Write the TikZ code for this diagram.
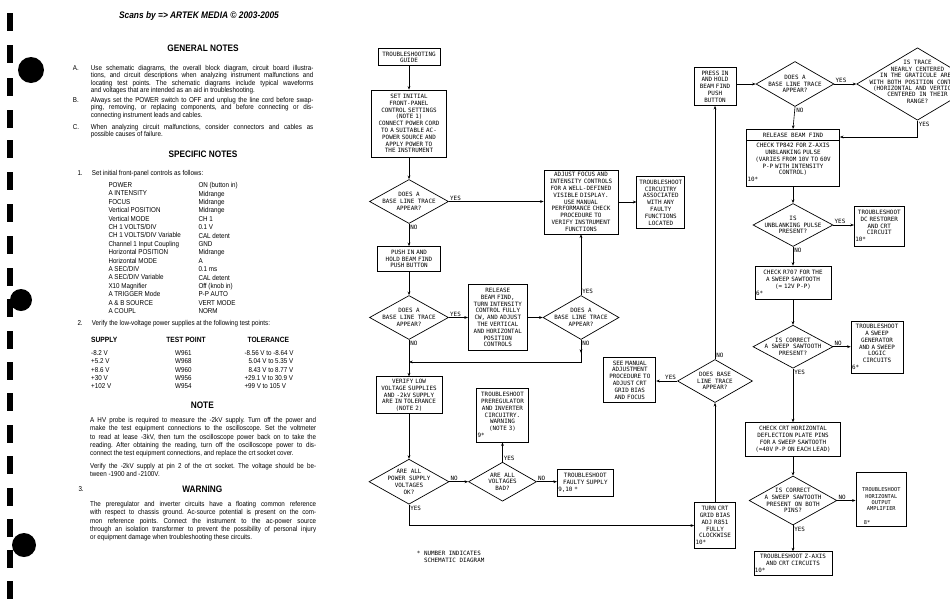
\documentclass[tikz,border=0pt]{standalone}
\usepackage{fontspec}
\setmainfont{Liberation Sans}[FakeStretch=0.88]
\newfontfamily\flowfont{DejaVu Sans Mono}
\usetikzlibrary{shapes.geometric,arrows.meta}
\newcommand\flowtxt{\flowfont\fontsize{5.9}{6.8}\selectfont}
\newcommand\smalltxt{\flowfont\fontsize{5.3}{6.2}\selectfont}
\newcommand\bodytxt{\fontsize{7.1}{8.33}\selectfont}
\tolerance=10000
\hbadness=10000
\frenchspacing

\begin{document}
\begin{tikzpicture}[x=1pt,y=-1pt,>={Stealth[length=3.6pt,width=2.8pt]},
  box/.style 2 args={draw,line width=0.7pt,font=\flowtxt,align=center,inner sep=1pt,text width=#1,minimum height=#2},
  decision/.style 2 args={draw,diamond,line width=0.7pt,inner sep=0pt,minimum width=#1,minimum height=#2},
  dtext/.style={font=\flowtxt,align=center,inner sep=0pt},
  ans/.style={font=\flowtxt,inner sep=1pt},
  link/.style={->,line width=0.6pt},
  head/.style={font=\bfseries\fontsize{9.4}{11}\selectfont},
  colhead/.style={font=\bfseries\fontsize{7.6}{9}\selectfont,inner sep=0pt},
  para/.style={anchor=north west,inner sep=0pt,text width=#1,align=justify,font=\bodytxt},
  item/.style={anchor=west,inner sep=0pt,font=\bodytxt},
  column/.style={anchor=north west,inner sep=0pt,align=left,font=\fontsize{7.1}{#1}\selectfont}]
\fill[white] (0,0) rectangle (950,611);
\useasboundingbox (0,0) rectangle (950,611);
\clip (0,0) rectangle (950,611);

\foreach \yy in {13,45,78,110,140,172,204,236,268,299,331,362,393,425,456,488,519,550,581}
  \fill (7,\yy) rectangle (13,\yy+18);
\fill (31,70) circle[radius=13pt];
\fill (21,300) circle[radius=11pt];
\fill (24,545) circle[radius=12pt];

\node[font=\bfseries\itshape\fontsize{9.5}{11}\selectfont] (scans) at (199,16) {Scans by => ARTEK MEDIA \textcopyright{} 2003-2005};
\node[head] (gen) at (203,48) {GENERAL NOTES};
\node[item] (na) at (72.7,67.7) {A.};
\node[para=222.5pt,font=\fontsize{7.1}{7.65}\selectfont] (pa) at (90.7,64.7) {Use schematic diagrams, the overall block diagram, circuit board illustra-\linebreak tions, and circuit descriptions when analyzing instrument malfunctions and\linebreak locating test points. The schematic diagrams include typical waveforms\linebreak and voltages that are intended as an aid in troubleshooting.};
\node[item] (nb) at (72.7,100) {B.};
\node[para=222.5pt,font=\fontsize{7.1}{7.65}\selectfont] (pb) at (90.7,97) {Always set the POWER switch to OFF and unplug the line cord before swap-\linebreak ping, removing, or replacing components, and before connecting or dis-\linebreak connecting instrument leads and cables.};
\node[item] (nc) at (72.7,126.7) {C.};
\node[para=222.5pt,font=\fontsize{7.1}{7.65}\selectfont] (pc) at (90.7,123.7) {When analyzing circuit malfunctions, consider connectors and cables as\linebreak possible causes of failure.};

\node[head] (spec) at (203,154.3) {SPECIFIC NOTES};
\node[item] (n1) at (77.3,173.3) {1.};
\node[item] (n1t) at (91.7,173.3) {Set initial front-panel controls as follows:};
\node[column=8.4] (ctlname) at (108.3,182.3) {POWER\\A INTENSITY\\FOCUS\\Vertical POSITION\\Vertical MODE\\CH 1 VOLTS/DIV\\CH 1 VOLTS/DIV Variable\\Channel 1 Input Coupling\\Horizontal POSITION\\Horizontal MODE\\A SEC/DIV\\A SEC/DIV Variable\\X10 Magnifier\\A TRIGGER Mode\\A \& B SOURCE\\A COUPL};
\node[column=8.4] (ctlvalue) at (198.3,182.3) {ON (button in)\\Midrange\\Midrange\\Midrange\\CH 1\\0.1 V\\CAL detent\\GND\\Midrange\\A\\0.1 ms\\CAL detent\\Off (knob in)\\P-P AUTO\\VERT MODE\\NORM};

\node[item] (n2) at (77.3,323.3) {2.};
\node[item] (n2t) at (91.7,323.3) {Verify the low-voltage power supplies at the following test points:};
\node[colhead,anchor=west] (hsup) at (91,340) {SUPPLY};
\node[colhead] (htp) at (186,340) {TEST POINT};
\node[colhead] (htol) at (268.3,340) {TOLERANCE};
\node[column=8.2] (sup) at (91,350.6) {-8.2 V\\+5.2 V\\+8.6 V\\+30 V\\+102 V};
\node[column=8.2] (tp) at (175,350.6) {W961\\W968\\W960\\W956\\W954};
\node[column=8.2] (tol) at (244.3,350.6) {-8.56 V to -8.64 V\\\hspace*{4pt}5.04 V to 5.35 V\\\hspace*{4pt}8.43 V to 8.77 V\\+29.1 V to 30.9 V\\+99 V to 105 V};

\node[head] (note) at (202.3,405) {NOTE};
\node[para=226pt] (pnote) at (90,417.1) {A HV probe is required to measure the -2kV supply. Turn off the power and\linebreak make the test equipment connections to the oscilloscope. Set the voltmeter\linebreak to read at lease -3kV, then turn the oscilloscope power back on to take the\linebreak reading. After obtaining the reading, turn off the oscilloscope power to dis-\linebreak connect the test equipment connections, and replace the crt socket cover.};
\node[para=226pt] (pver) at (90,463.1) {Verify the -2kV supply at pin 2 of the crt socket. The voltage should be be-\linebreak tween -1900 and -2100V.};
\node[item] (n3) at (78.3,489.3) {3.};
\node[head] (warn) at (202.3,489.3) {WARNING};
\node[para=226pt] (pwarn) at (90,501.1) {The preregulator and inverter circuits have a floating common reference\linebreak with respect to chassis ground. Ac-source potential is present on the com-\linebreak mon reference points. Connect the instrument to the ac-power source\linebreak through an isolation transformer to prevent the possibility of personal injury\linebreak or equipment damage when troubleshooting these circuits.};

\node[box={60pt}{17pt}] (guide) at (409,57.3) {TROUBLESHOOTING\\GUIDE};
\node[box={73pt}{67pt}] (init) at (409,123.5) {SET INITIAL\\FRONT-PANEL\\CONTROL SETTINGS\\(NOTE 1)\\CONNECT POWER CORD\\TO A SUITABLE AC-\\POWER SOURCE AND\\APPLY POWER TO\\THE INSTRUMENT};
\node[decision={79pt}{44pt}] (d1) at (409,201.5) {};
\node[dtext] (d1t) at (d1) {DOES A\\BASE LINE TRACE\\APPEAR?};
\node[box={61pt}{25pt}] (push) at (409,259) {PUSH IN AND\\HOLD BEAM FIND\\PUSH BUTTON};
\node[decision={79pt}{44pt}] (d2) at (409,317.5) {};
\node[dtext] (d2t) at (d2) {DOES A\\BASE LINE TRACE\\APPEAR?};
\node[box={57pt}{66pt}] (rel) at (497.8,317.5) {RELEASE\\BEAM FIND,\\TURN INTENSITY\\CONTROL FULLY\\CW, AND ADJUST\\THE VERTICAL\\AND HORIZONTAL\\POSITION\\CONTROLS};
\node[decision={76pt}{44pt}] (d3) at (581,317.5) {};
\node[dtext] (d3t) at (d3) {DOES A\\BASE LINE TRACE\\APPEAR?};
\node[box={72pt}{64pt}] (adjust) at (581,202) {ADJUST FOCUS AND\\INTENSITY CONTROLS\\FOR A WELL-DEFINED\\VISIBLE DISPLAY.\\USE MANUAL\\PERFORMANCE CHECK\\PROCEDURE TO\\VERIFY INSTRUMENT\\FUNCTIONS};
\node[box={46pt}{52pt}] (assoc) at (660.8,202.5) {TROUBLESHOOT\\CIRCUITRY\\ASSOCIATED\\WITH ANY\\FAULTY\\FUNCTIONS\\LOCATED};
\node[box={64pt}{37pt}] (verify) at (409,395.3) {VERIFY LOW\\VOLTAGE SUPPLIES\\AND -2kV SUPPLY\\ARE IN TOLERANCE\\(NOTE 2)};
\node[box={50pt}{54pt}] (prereg) at (502.5,415) {TROUBLESHOOT\\PREREGULATOR\\AND INVERTER\\CIRCUITRY.\\WARNING\\(NOTE 3)\\9*\hfill\mbox{}};
\node[decision={80pt}{45pt}] (d4) at (409,481.7) {};
\node[dtext] (d4t) at (d4) {ARE ALL\\POWER SUPPLY\\VOLTAGES\\OK?};
\node[decision={68pt}{39pt}] (d5) at (502.5,481.7) {};
\node[dtext] (d5t) at (d5) {ARE ALL\\VOLTAGES\\BAD?};
\node[box={54pt}{27pt}] (faulty) at (585.3,482.7) {TROUBLESHOOT\\FAULTY SUPPLY\\9,10 *\hfill\mbox{}};
\node[anchor=north west,align=left,inner sep=0pt,font=\flowfont\fontsize{5.9}{7.3}\selectfont] (foot) at (416.7,550.5) {* NUMBER INDICATES\\\hspace*{7.1pt}SCHEMATIC DIAGRAM};

\node[box={50pt}{45pt}] (seeman) at (629.8,380) {SEE MANUAL\\ADJUSTMENT\\PROCEDURE TO\\ADJUST CRT\\GRID BIAS\\AND FOCUS};
\node[decision={75pt}{43pt}] (d6) at (715,381) {};
\node[dtext] (d6t) at (d6) {DOES BASE\\LINE TRACE\\APPEAR?};
\node[box={39pt}{46pt}] (turn) at (715,525.5) {TURN CRT\\GRID BIAS\\ADJ R851\\FULLY\\CLOCKWISE\\10*\hfill\mbox{}};
\node[box={40pt}{38pt}] (press) at (715,86.5) {PRESS IN\\AND HOLD\\BEAM FIND\\PUSH\\BUTTON};
\node[decision={78pt}{45pt}] (d7) at (795,84) {};
\node[dtext] (d7t) at (d7) {DOES A\\BASE LINE TRACE\\APPEAR?};
\node[decision={121.6pt}{72.4pt}] (d8) at (917.5,84) {};
\node[dtext,font=\flowfont\fontsize{5.9}{6.4}\selectfont] (d8t) at (917.5,82) {IS TRACE\\NEARLY CENTERED\\IN THE GRATICULE AREA\\WITH BOTH POSITION CONTROLS\\(HORIZONTAL AND VERTICAL)\\CENTERED IN THEIR\\RANGE?};
\node[box={91pt}{57.4pt}] (rbf) at (793,158) {};
\draw[line width=0.7pt] ([yshift=-11pt]rbf.north west) -- ([yshift=-11pt]rbf.north east);
\node[font=\flowtxt] (rbfhead) at (793,135) {RELEASE BEAM FIND};
\node[font=\flowtxt,align=center,text width=91pt,inner sep=1pt] (rbfbody) at (793,162.5) {CHECK TP842 FOR Z-AXIS\\UNBLANKING PULSE\\(VARIES FROM 10V TO 60V\\P-P WITH INTENSITY\\CONTROL)\\10*\hfill\mbox{}};
\node[decision={80pt}{43pt}] (d9) at (793,225) {};
\node[dtext] (d9t) at (d9) {IS\\UNBLANKING PULSE\\PRESENT?};
\node[box={48pt}{40pt}] (dcrest) at (879.3,226) {TROUBLESHOOT\\DC RESTORER\\AND CRT\\CIRCUIT\\10*\hfill\mbox{}};
\node[box={74pt}{33.3pt}] (r707) at (793,282.7) {CHECK R707 FOR THE\\A SWEEP SAWTOOTH\\(≈ 12V P-P)\\6*\hfill\mbox{}};
\node[decision={80pt}{43pt}] (d10) at (793,346.7) {};
\node[dtext] (d10t) at (d10) {IS CORRECT\\A SWEEP SAWTOOTH\\PRESENT?};
\node[box={50pt}{52pt}] (asweep) at (877,347) {TROUBLESHOOT\\A SWEEP\\GENERATOR\\AND A SWEEP\\LOGIC\\CIRCUITS\\6*\hfill\mbox{}};
\node[box={93pt}{33.3pt}] (crt) at (793,439.3) {CHECK CRT HORIZONTAL\\DEFLECTION PLATE PINS\\FOR A SWEEP SAWTOOTH\\(≈40V P-P ON EACH LEAD)};
\node[decision={87.7pt}{49pt}] (d11) at (793,500.5) {};
\node[dtext] (d11t) at (d11) {IS CORRECT\\A SWEEP SAWTOOTH\\PRESENT ON BOTH\\PINS?};
\node[box={48.7pt}{53.3pt},font=\smalltxt,label={[font=\smalltxt,anchor=south west,inner sep=2pt]south west:\hspace*{6pt}8*}] (horiz) at (881.3,499.3) {TROUBLESHOOT\\HORIZONTAL\\OUTPUT\\AMPLIFIER};
\node[box={76.3pt}{23.3pt}] (zaxis) at (793,563.3) {TROUBLESHOOT Z-AXIS\\AND CRT CIRCUITS\\10*\hfill\mbox{}};

\draw[link] (guide.south) -- (init.north);
\draw[link] (init.south) -- (d1.north);
\draw[link] (d1.east) -- node[ans,above right,pos=0] {YES} (d1.east -| adjust.west);
\draw[link] (d1.south) -- node[ans,below right,pos=0] {NO} (push.north);
\draw[link] (push.south) -- (d2.north);
\draw[link] (d2.east) -- node[ans,above right,pos=0] {YES} (d2.east -| rel.west);
\draw[link] (rel.east) -- (d3.west);
\draw[link] (d3.north) -- node[ans,above right,pos=0] {YES} (adjust.south);
\coordinate (join) at (409,362);
\draw[link] (d3.south) -- ++(0,13);
\draw[link] (d3.south) |- node[ans,below right,pos=0] {NO} (join);
\draw[link] (d2.south) -- node[ans,below right,pos=0] {NO} (verify.north);
\draw[link] (adjust.east) -- (adjust.east -| assoc.west);
\draw[link] (verify.south) -- (d4.north);
\draw[link] (d4.east) -- node[ans,above right,pos=0] {NO} (d5.west);
\draw[link] (d5.north) -- node[ans,above right,pos=0] {YES} (prereg.south);
\draw[link] (d5.east) -- node[ans,above right,pos=0] {NO} (d5.east -| faulty.west);
\draw[link] (d4.south) |- node[ans,below right,pos=0] {YES} (turn.west);
\draw[link] (turn.north) -- (d6.south);
\draw[link] (d6.west) -- node[ans,above left,pos=0] {YES} (d6.west -| seeman.east);
\draw[link] (d6.north) -- node[ans,above right,pos=0] {NO} (press.south);
\draw[link] (press.east |- d7.west) -- (d7.west);
\draw[link] (d7.east) -- node[ans,above right,pos=0] {YES} (d8.west);
\path (rbf.east) ++(0,-21) coordinate (rbfin);
\draw[link] (d8.south) |- node[ans,below right,pos=0] {YES} (rbfin);
\draw[link] (d7.south) -- node[ans,below right,pos=0] {NO} (rbf.north);
\draw[link] (rbf.south) -- (d9.north);
\draw[link] (d9.east) -- node[ans,above right,pos=0] {YES} (d9.east -| dcrest.west);
\draw[link] (d9.south) -- node[ans,below right,pos=0] {NO} (r707.north);
\draw[link] (r707.south) -- (d10.north);
\draw[link] (d10.east) -- node[ans,above right,pos=0] {NO} (d10.east -| asweep.west);
\draw[link] (d10.south) -- node[ans,below right,pos=0] {YES} (crt.north);
\draw[link] (crt.south) -- (d11.north);
\draw[link] (d11.east) -- node[ans,above right,pos=0] {NO} (d11.east -| horiz.west);
\draw[link] (d11.south) -- node[ans,below right,pos=0] {YES} (zaxis.north);
\end{tikzpicture}
\end{document}
